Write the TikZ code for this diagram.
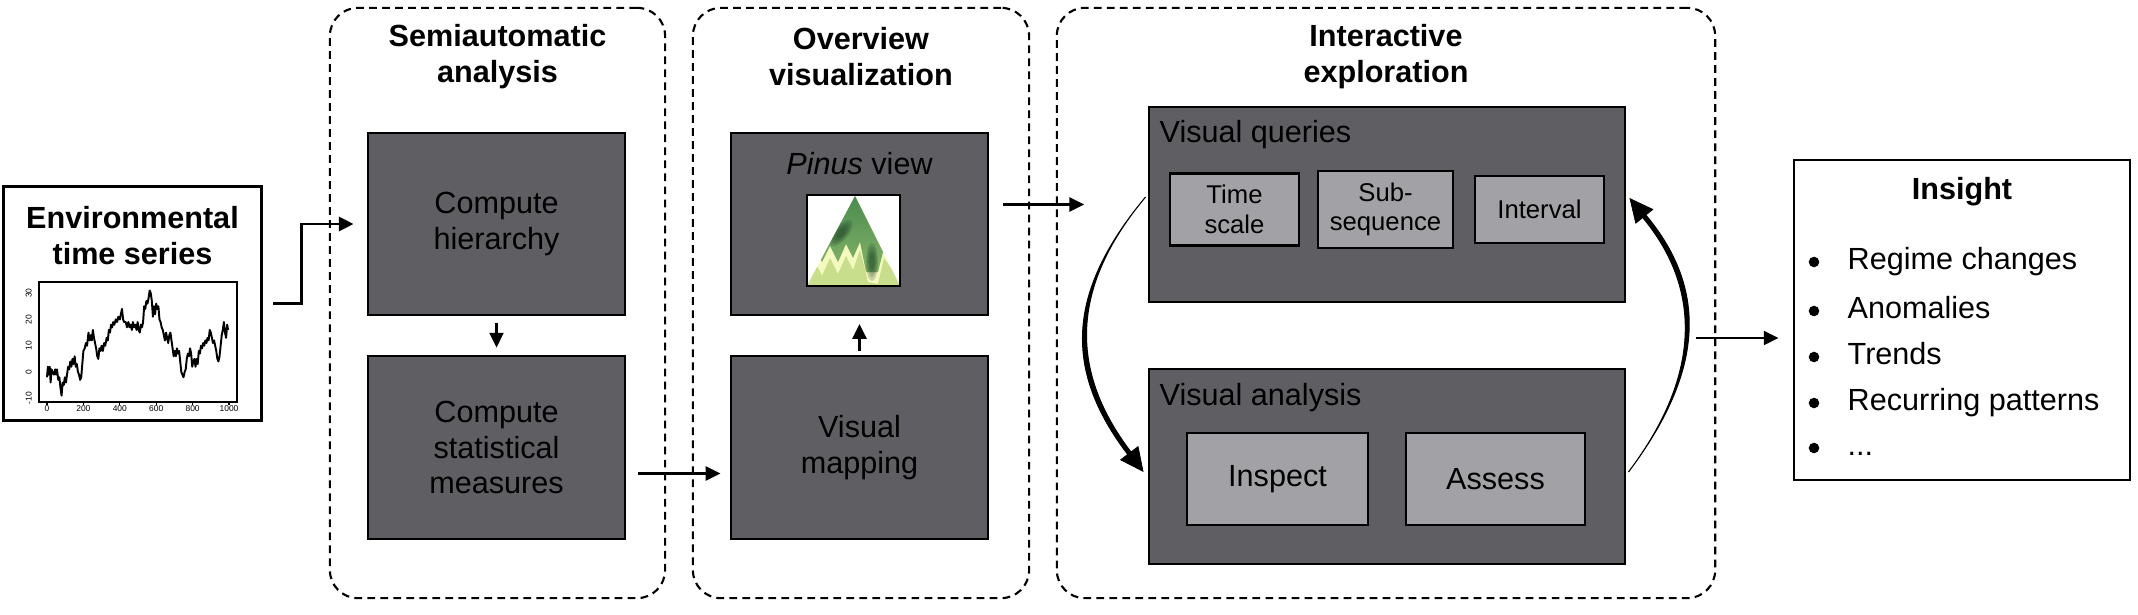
\documentclass[tikz,border=0pt]{standalone}
\usepackage{fontspec}
\setmainfont{Liberation Sans}
\usetikzlibrary{arrows.meta,calc}
\definecolor{boxdark}{HTML}{5F5E63}
\definecolor{boxlight}{HTML}{A2A2A6}
\definecolor{pinetop}{HTML}{4A8A4E}
\definecolor{pinemid}{HTML}{86B46A}
\definecolor{pinelight}{HTML}{C9DE8C}
\definecolor{pinelow}{HTML}{F4F9BE}
\definecolor{pinedark}{HTML}{173A22}
\tikzset{
  stage/.style={draw, line width=0.6pt, dash pattern=on 2.2pt off 1.5pt, rounded corners=0.28cm},
  headline/.style={align=center, inner sep=0pt, font=\bfseries\fontsize{8.7}{10.2}\selectfont},
  darkbox/.style={draw, fill=boxdark, line width=0.75pt, align=center, font=\fontsize{8.7}{10.2}\selectfont},
  lightbox/.style={draw, fill=boxlight, line width=0.65pt, align=center},
  boxlabel/.style={anchor=west, inner sep=0pt, font=\fontsize{8.7}{10.2}\selectfont},
  item/.style={anchor=west, inner sep=0pt, text height=6.3pt, text depth=1.8pt, font=\fontsize{8.7}{10.2}\selectfont},
  ticklab/.style={inner sep=0pt, font=\fontsize{2.4}{2.8}\selectfont},
  arr/.style={-{Triangle[length=4.2pt,width=4pt]}, line width=0.6pt},
  bigtip/.style={-{Triangle[length=6.8pt,width=6.5pt]}, line width=0.2pt},
}
\begin{document}
\begin{tikzpicture}[x=0.01cm, y=-0.01cm]
\useasboundingbox (0,0) rectangle (2138,615);

\node[stage, minimum width=3.35cm, minimum height=5.9cm] (sa) at (497.5,303) {};
\node[stage, minimum width=3.36cm, minimum height=5.9cm] (ov) at (861,303) {};
\node[stage, minimum width=6.58cm, minimum height=5.9cm] (ie) at (1386,303) {};
\node[headline] (sat) at (497.5,57) {Semiautomatic\\analysis};
\node[headline] (ovt) at (861,57) {Overview\\visualization};
\node[headline] (iet) at (1386,57) {Interactive\\exploration};

\node[draw, line width=0.85pt, minimum width=2.57cm, minimum height=2.33cm] (env) at (132.5,303.5) {};
\node[headline] (envt) at (132.5,235.5) {Environmental\\time series};
\draw[line width=0.35pt] (39,282) rectangle (237,402);
\begin{scope}[shift={(47,372)}, xscale=0.182, yscale=-2.63]
  \foreach \v [count=\i] in {0,200,...,1000} {
    \draw[line width=0.3pt] (\v,-11.4) -- (\v,-12.4);
    \node[ticklab] (xl\i) at (\v,-13.8) {\v};
  }
  \foreach \v [count=\i] in {-10,0,...,30} {
    \draw[line width=0.3pt] (-44,\v) -- (-52,\v);
    \node[ticklab, rotate=90] (yl\i) at (-100,\v) {\v};
  }
  \draw[line width=0.55pt, line join=round] plot coordinates {
    (0,-2) (5,2) (10,-1) (15,2) (20,-4) (25,1) (30,0) (38,-1) (45,1) (50,-1)
    (55,1) (62,-3) (68,-2) (74,-6) (80,-9) (86,-4) (92,-5) (98,-2) (104,-4)
    (110,-1) (116,2) (122,1) (128,4) (134,2) (140,5) (146,3) (152,6) (158,2)
    (164,3) (170,0) (176,-1) (182,-3) (188,-2) (194,3) (200,8) (207,9)
    (214,11) (220,10) (228,15) (234,12) (240,14) (246,12) (252,16) (258,13)
    (264,11) (270,9) (276,6) (282,5) (288,9) (294,8) (300,10) (307,8)
    (314,11) (320,10) (328,13) (334,12) (340,16) (346,15) (352,18) (358,17)
    (364,19) (370,18) (378,20) (385,19) (392,21) (400,20) (406,22) (412,24)
    (418,20) (424,19) (432,19) (440,17) (447,19) (454,17) (460,18) (466,16)
    (472,19) (478,17) (485,18) (492,16) (498,19) (504,16) (510,15) (516,18)
    (522,17) (528,19) (534,25) (540,24) (546,27) (552,26) (558,28) (564,31)
    (570,30) (576,27) (582,21) (588,25) (594,22) (600,26) (606,24) (612,25)
    (618,20) (624,19) (630,17) (636,16) (642,14) (648,12) (654,15) (660,13)
    (666,11) (672,14) (678,15) (684,12) (690,9) (696,6) (702,8) (708,6)
    (714,9) (720,7) (726,8) (732,4) (738,0) (744,-1) (750,-2) (756,0) (762,1)
    (768,5) (774,7) (780,6) (786,9) (792,7) (798,2) (804,4) (810,5) (816,2)
    (822,5) (828,3) (834,8) (840,7) (846,10) (852,9) (858,11) (864,10)
    (870,12) (876,11) (882,13) (888,12) (894,16) (900,15) (906,13) (912,11)
    (918,12) (924,10) (930,8) (936,5) (942,4) (948,6) (954,10) (960,14)
    (966,16) (972,19) (978,15) (984,13) (990,18) (995,16)};
\end{scope}

\node[darkbox, minimum width=2.57cm, minimum height=1.82cm] (ch) at (496.5,224) {Compute\\hierarchy};
\node[darkbox, minimum width=2.57cm, minimum height=1.83cm] (cs) at (496.5,447.5) {Compute\\statistical\\measures};
\node[darkbox, minimum width=2.57cm, minimum height=1.82cm] (pv) at (859.5,224) {};
\node[darkbox, minimum width=2.57cm, minimum height=1.83cm] (vm) at (859.5,447.5) {Visual\\mapping};
\node[boxlabel, anchor=center] (pvt) at (859.5,164) {\textit{Pinus} view};

\fill[white] (807,195) rectangle (900,286);
\begin{scope}
  \clip (807,286) -- (855,196) -- (900,286) -- cycle;
  \fill[pinelow] (807,195) rectangle (900,286);
  \fill[pinelight] (807,286) -- (807,272) -- (815,262) -- (822,276) -- (830,258) -- (838,274)
    -- (846,256) -- (853,270) -- (860,250) -- (868,282) -- (878,284) -- (884,258) -- (891,268)
    -- (900,255) -- (900,286) -- cycle;
  \shade[top color=pinetop, bottom color=pinemid] (807,195) -- (900,195) -- (900,248) -- (891,260)
    -- (884,248) -- (878,272) -- (866,272) -- (860,242) -- (853,258) -- (846,244) -- (838,262)
    -- (830,246) -- (822,262) -- (815,250) -- (807,260) -- cycle;
  \begin{scope}[shift={(841,233)}, rotate=-40]
    \foreach \s in {1,0.8,0.6,0.4}
      \fill[pinedark, opacity=0.2] (0,0) ellipse [x radius=7*\s, y radius=16*\s];
  \end{scope}
  \begin{scope}[shift={(872,258)}]
    \foreach \s in {1,0.8,0.6,0.4}
      \fill[pinedark, opacity=0.2] (0,4) ellipse [x radius=6*\s, y radius=19*\s];
  \end{scope}
\end{scope}
\node[draw, line width=0.5pt, inner sep=0pt, minimum width=0.93cm, minimum height=0.91cm] (pimg) at (853.5,240.5) {};

\node[darkbox, minimum width=4.76cm, minimum height=1.95cm] (vq) at (1387,204.5) {};
\node[darkbox, minimum width=4.76cm, minimum height=1.95cm] (va) at (1387,466.5) {};
\node[boxlabel] (vqt) at (1159,135) {Visual queries};
\node[boxlabel] (vat) at (1159,398) {Visual analysis};
\foreach \n/\x/\t in {ts/1234.5/{Time\\scale}, sub/1385.5/{Sub-\\sequence}, iv/1539.5/{Interval}}
  \node[lightbox, minimum width=1.29cm, minimum height=0.67cm, font=\fontsize{7.3}{8.4}\selectfont] (\n) at (\x,209.5) {\t};
\node[lightbox, minimum width=1.81cm, minimum height=0.92cm, font=\fontsize{8.7}{10.2}\selectfont] (insp) at (1277.5,479) {Inspect};
\node[lightbox, minimum width=1.79cm, minimum height=0.92cm, font=\fontsize{8.7}{10.2}\selectfont] (ass) at (1495.5,479) {Assess};

\node[draw, line width=0.75pt, minimum width=3.36cm, minimum height=3.2cm] (ins) at (1962,320) {};
\node[headline] (inst) at (1962,192) {Insight};
\foreach \y/\t [count=\i] in {262/Regime changes, 311/Anomalies, 357/Trends, 403/Recurring patterns} {
  \fill (1814,\y) circle[radius=1.5pt];
  \node[item] (it\i) at (1847,\y) {\t};
}
\fill (1814,448) circle[radius=1.5pt];
\node[item] (it5) at (1847,448) {...};

\draw[arr, line width=0.85pt, shorten <=3.1pt, shorten >=3.7pt] (env.east) -| ($(ch.west)+(-65,0)$) -- (ch.west);
\draw[arr, shorten <=2pt, shorten >=2pt] (ch) -- (cs);
\draw[arr, shorten <=3.4pt, shorten >=2.6pt] ($(cs.east)+(0,26)$) -- ($(vm.west)+(0,26)$);
\draw[arr, shorten <=1pt, shorten >=2.2pt] (vm) -- (pv);
\draw[arr, shorten <=4pt, shorten >=18pt] (pv.east |- vq.west) -- (vq.west);
\coordinate (exit) at ($(ie.east)+(-20,35)$);
\draw[arr, shorten >=4pt] (exit) -- (exit -| ins.west);

\coordinate (la) at ($(vq.west)+(-2,-7.5)$);
\coordinate (lb) at ($(va.west)+(-18,-13)$);
\coordinate (lc) at ($(va.west)+(-4,5.5)$);
\filldraw[line width=0.3pt] (la) .. controls +(-80,96) and +(-64,-84) .. ($(lb)+(-1.6,1.2)$)
  -- ($(lb)+(1.6,-1.2)$) .. controls +(-61,-80) and +(-77,92) .. (la) -- cycle;
\draw[bigtip] (lb) -- (lc);

\coordinate (ra) at ($(va.east)+(2,5.5)$);
\coordinate (rb) at ($(vq.east)+(18,12)$);
\coordinate (rc) at ($(vq.east)+(3,-6.5)$);
\filldraw[line width=0.3pt] (ra) .. controls +(77,-102) and +(61,73) .. ($(rb)+(1.5,-1.3)$)
  -- ($(rb)+(-1.5,1.3)$) .. controls +(58,70) and +(74,-98) .. (ra) -- cycle;
\draw[bigtip] (rb) -- (rc);
\end{tikzpicture}
\end{document}
